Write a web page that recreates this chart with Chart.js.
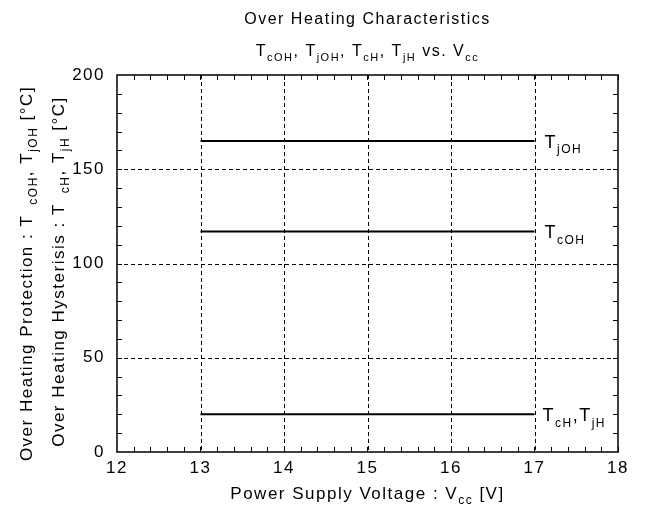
<!DOCTYPE html>
<html>
<head>
<meta charset="utf-8">
<title>Over Heating Characteristics</title>
<script src="https://cdn.jsdelivr.net/npm/chart.js"></script>
<style>
  html, body { margin: 0; padding: 0; background: #fff; }
  #wrap { width: 645px; height: 510px; }
</style>
</head>
<body>
<div id="wrap"><canvas id="chart"></canvas></div>
<script>
// chart data
const voltages = [13, 17];
const tjOH = [165, 165];
const tcOH = [117, 117];
const tcH_tjH = [20, 20];
const xTicks = [12, 13, 14, 15, 16, 17, 18];
const yTicks = [0, 50, 100, 150, 200];

const FONT = '"Liberation Sans", Arial, sans-serif';
const SPACING = '1.5px';

// draw text made of pieces, some of them subscript
function drawRich(ctx, parts, x, y, size, align) {
  const subSize = Math.round(size * 0.68);
  let total = 0;
  parts.forEach(p => {
    ctx.font = (p.sub ? subSize : size) + 'px ' + FONT;
    total += ctx.measureText(p.t).width + (p.gap || 0);
  });
  let cx = align === 'center' ? x - total / 2 : x;
  ctx.textAlign = 'left';
  ctx.textBaseline = 'alphabetic';
  parts.forEach(p => {
    ctx.font = (p.sub ? subSize : size) + 'px ' + FONT;
    ctx.fillText(p.t, cx, y + (p.sub ? size * 0.3 : 0));
    cx += ctx.measureText(p.t).width + (p.gap || 0);
  });
}

const line = data => ({
  data: voltages.map((v, i) => ({ x: v, y: data[i] })),
  showLine: true,
  borderColor: '#000',
  borderWidth: 2,
  pointRadius: 0
});

const frame = {
  id: 'frame',
  beforeDraw(chart) {
    chart.ctx.letterSpacing = SPACING;
  },
  beforeDatasetsDraw(chart) {
    const ctx = chart.ctx, a = chart.chartArea;
    const xs = chart.scales.x, ys = chart.scales.y;
    ctx.save();
    ctx.strokeStyle = '#000';
    // dashed grid at major ticks
    ctx.lineWidth = 1;
    ctx.setLineDash([4, 3]);
    xTicks.slice(1, -1).forEach(v => {
      const px = Math.round(xs.getPixelForValue(v)) + 0.5;
      ctx.beginPath(); ctx.moveTo(px, a.top); ctx.lineTo(px, a.bottom); ctx.stroke();
    });
    yTicks.slice(1, -1).forEach(v => {
      const py = Math.round(ys.getPixelForValue(v)) + 0.5;
      ctx.beginPath(); ctx.moveTo(a.left, py); ctx.lineTo(a.right, py); ctx.stroke();
    });
    ctx.setLineDash([]);
    // minor ticks, inward on all sides
    ctx.lineWidth = 1;
    for (let v = 12.2; v < 18; v += 0.2) {
      const px = Math.round(xs.getPixelForValue(v)) + 0.5;
      ctx.beginPath();
      ctx.moveTo(px, a.bottom); ctx.lineTo(px, a.bottom - 5);
      ctx.moveTo(px, a.top); ctx.lineTo(px, a.top + 5);
      ctx.stroke();
    }
    for (let v = 10; v < 200; v += 10) {
      const py = Math.round(ys.getPixelForValue(v)) + 0.5;
      ctx.beginPath();
      ctx.moveTo(a.left, py); ctx.lineTo(a.left + 5, py);
      ctx.moveTo(a.right, py); ctx.lineTo(a.right - 5, py);
      ctx.stroke();
    }
    // frame
    ctx.lineWidth = 1.5;
    ctx.strokeRect(a.left, a.top, a.right - a.left, a.bottom - a.top);
    ctx.restore();
  },
  afterDraw(chart) {
    const ctx = chart.ctx, a = chart.chartArea;
    const xs = chart.scales.x, ys = chart.scales.y;
    const mid = (a.left + a.right) / 2;
    ctx.save();
    ctx.fillStyle = '#000';
    // titles
    drawRich(ctx, [{ t: 'Over Heating Characteristics' }], mid, 24, 16, 'center');
    drawRich(ctx, [
      { t: 'T' }, { t: 'cOH', sub: true }, { t: ', T' }, { t: 'jOH', sub: true },
      { t: ', T' }, { t: 'cH', sub: true }, { t: ', T' }, { t: 'jH', sub: true },
      { t: ' vs. V' }, { t: 'cc', sub: true }
    ], mid, 56, 16, 'center');
    // x axis title
    drawRich(ctx, [
      { t: 'Power Supply Voltage : V' }, { t: 'cc', sub: true }, { t: ' [V]' }
    ], mid, 499, 17, 'center');
    // y axis titles (rotated)
    const midY = (a.top + a.bottom) / 2 + 10;
    ctx.save();
    ctx.translate(32, midY);
    ctx.rotate(-Math.PI / 2);
    drawRich(ctx, [
      { t: 'Over Heating Protection : T', gap: 10 }, { t: 'cOH', sub: true }, { t: ', T' },
      { t: 'jOH', sub: true }, { t: ' [°C]' }
    ], 0, 0, 17, 'center');
    ctx.restore();
    ctx.save();
    ctx.translate(64, midY - 2);
    ctx.rotate(-Math.PI / 2);
    drawRich(ctx, [
      { t: 'Over Heating Hysterisis : T', gap: 10 }, { t: 'cH', sub: true }, { t: ', T' },
      { t: 'jH', sub: true }, { t: ' [°C]' }
    ], 0, 0, 17, 'center');
    ctx.restore();
    // line labels
    const lx = xs.getPixelForValue(voltages[voltages.length - 1]) + 10;
    drawRich(ctx, [{ t: 'T' }, { t: 'jOH', sub: true }], lx, ys.getPixelForValue(tjOH[1]) + 7, 18, 'left');
    drawRich(ctx, [{ t: 'T' }, { t: 'cOH', sub: true }], lx, ys.getPixelForValue(tcOH[1]) + 7, 18, 'left');
    drawRich(ctx, [{ t: 'T' }, { t: 'cH', sub: true }, { t: ',T' }, { t: 'jH', sub: true }],
      lx - 2, ys.getPixelForValue(tcH_tjH[1]) + 7, 18, 'left');
    ctx.restore();
  }
};

new Chart(document.getElementById('chart'), {
  type: 'scatter',
  data: { datasets: [line(tjOH), line(tcOH), line(tcH_tjH)] },
  plugins: [frame],
  options: {
    responsive: true,
    maintainAspectRatio: false,
    animation: false,
    layout: { padding: { left: 0, top: 75, right: 27, bottom: 0 } },
    plugins: { legend: { display: false }, tooltip: { enabled: false } },
    scales: {
      x: {
        type: 'linear', min: 12, max: 18,
        afterBuildTicks: s => { s.ticks = xTicks.map(v => ({ value: v })); },
        afterFit: s => { s.height = 58; },
        ticks: { color: '#000', font: { family: FONT, size: 17 }, padding: 6 },
        grid: { display: false, drawTicks: false },
        border: { display: false }
      },
      y: {
        type: 'linear', min: 0, max: 200,
        afterBuildTicks: s => { s.ticks = yTicks.map(v => ({ value: v })); },
        afterFit: s => { s.width = 117; },
        ticks: { color: '#000', font: { family: FONT, size: 17 }, padding: 12 },
        grid: { display: false, drawTicks: false },
        border: { display: false }
      }
    }
  }
});
</script>
</body>
</html>
